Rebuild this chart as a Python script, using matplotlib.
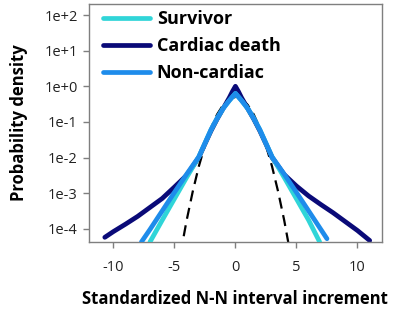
import matplotlib
matplotlib.use("Agg")
import matplotlib.pyplot as plt
import numpy as np

# ---- data (x, log10 density) ----
survivor_x = [-7.0, -6.0, -5.0, -4.0, -3.0, -2.5, -2.0, -1.5, -1.0, -0.5, 0.0,
              0.5, 1.0, 1.5, 2.0, 2.5, 3.0, 4.0, 5.0, 6.0, 6.9]
survivor_logy = [-4.37, -3.76, -3.16, -2.56, -1.98, -1.60, -1.22, -0.90, -0.62, -0.40, -0.20,
                 -0.40, -0.62, -0.90, -1.22, -1.60, -1.98, -2.56, -3.16, -3.76, -4.37]

cardiac_x = [-10.7, -10.0, -9.0, -8.0, -7.0, -6.0, -5.0, -4.0, -3.0, -2.5, -2.0, -1.5, -1.0, -0.5, -0.25, 0.0,
             0.25, 0.5, 1.0, 1.5, 2.0, 2.5, 3.0, 4.0, 5.0, 6.0, 7.0, 8.0, 9.0, 10.0, 11.0]
cardiac_logy = [-4.24, -4.08, -3.87, -3.65, -3.40, -3.15, -2.83, -2.50, -2.00, -1.62, -1.25, -0.92, -0.62, -0.32, -0.15, 0.00,
                -0.15, -0.32, -0.62, -0.92, -1.25, -1.62, -2.00, -2.48, -2.80, -3.08, -3.32, -3.55, -3.80, -4.05, -4.33]

noncardiac_x = [-7.7, -7.0, -6.0, -5.0, -4.0, -3.0, -2.5, -2.0, -1.5, -1.0, -0.5, 0.0,
                0.5, 1.0, 1.5, 2.0, 2.5, 3.0, 4.0, 5.0, 6.0, 7.0, 7.5]
noncardiac_logy = [-4.37, -4.02, -3.50, -2.98, -2.47, -1.98, -1.60, -1.22, -0.90, -0.62, -0.40, -0.20,
                   -0.40, -0.62, -0.90, -1.22, -1.60, -1.98, -2.47, -2.98, -3.50, -4.02, -4.28]

gauss_x = [-4.5, -4.0, -3.5, -3.0, -2.5, -2.0, -1.5, -1.0, -0.5, 0.0, 0.5, 1.0, 1.5, 2.0, 2.5, 3.0, 3.5, 4.0, 4.5]
gauss_logy = [-4.70, -3.77, -2.96, -2.25, -1.66, -1.17, -0.79, -0.52, -0.35, -0.30, -0.35, -0.52, -0.79, -1.17, -1.66, -2.25, -2.96, -3.77, -4.70]

series_labels = ["Survivor", "Cardiac death", "Non-cardiac"]
series_colors = ["#30D5D8", "#0A0A78", "#1E8CEB"]
ytick_labels = ["1e-4", "1e-3", "1e-2", "1e-1", "1e+0", "1e+1", "1e+2"]
xtick_vals = [-10, -5, 0, 5, 10]

plt.rcParams['font.family'] = ['Open Sans', 'DejaVu Sans']

fig = plt.figure(figsize=(3.97, 3.09), dpi=100)
ax = fig.add_axes([0.224, 0.217, 0.738, 0.770])

def pw(v):
    return 10.0 ** np.asarray(v)

ax.plot(gauss_x, pw(gauss_logy), color="black", lw=1.6, ls=(0, (5, 3)), zorder=1)
ax.plot(cardiac_x, pw(cardiac_logy), color=series_colors[1], lw=3.4, label=series_labels[1], zorder=2,
        solid_capstyle="round")
ax.plot(survivor_x, pw(survivor_logy), color=series_colors[0], lw=3.4, label=series_labels[0], zorder=3,
        solid_capstyle="round")
ax.plot(noncardiac_x, pw(noncardiac_logy), color=series_colors[2], lw=3.4, label=series_labels[2], zorder=4,
        solid_capstyle="round")

ax.set_yscale("log")
ax.set_ylim(10 ** -4.37, 10 ** 2.31)
ax.set_xlim(-12, 12)
ax.set_yticks([10.0 ** k for k in range(-4, 3)])
ax.set_yticklabels(ytick_labels)
ax.yaxis.set_minor_locator(matplotlib.ticker.NullLocator())
ax.set_xticks(xtick_vals)
ax.set_xticklabels([str(v) for v in xtick_vals])

for s in ax.spines.values():
    s.set_color("#7f7f7f")
    s.set_linewidth(1.0)
ax.tick_params(axis="both", colors="#7f7f7f", length=4, width=1.0, labelsize=10.5, labelcolor="#222222")
ax.tick_params(axis="x", pad=9)
ax.tick_params(axis="y", pad=4)

ax.set_ylabel("Probability density", fontsize=12, fontweight="bold", labelpad=12)
ax.set_xlabel("Standardized N-N interval increment", fontsize=12, fontweight="bold", labelpad=11)

handles, labels = ax.get_legend_handles_labels()
order = [1, 0, 2]
leg = ax.legend([handles[i] for i in order], [labels[i] for i in order], loc="upper left",
                bbox_to_anchor=(0.041, 0.983), frameon=False, handlelength=2.6, handletextpad=0.39,
                labelspacing=0.5, borderpad=0.1, borderaxespad=0.0,
                prop={"weight": "bold", "size": 13})

fig.savefig("out.png", dpi=100)
